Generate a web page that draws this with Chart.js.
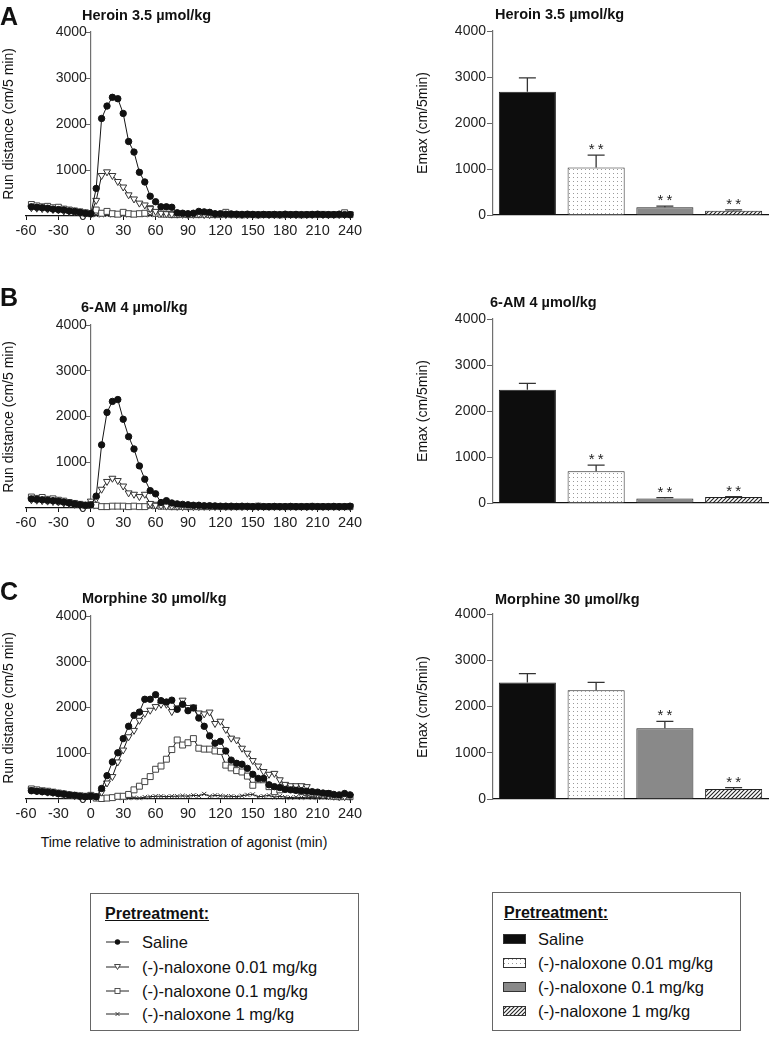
<!DOCTYPE html>
<html><head><meta charset="utf-8">
<script src="https://cdn.jsdelivr.net/npm/chart.js@4.4.0/dist/chart.umd.min.js"></script>
<style>
html,body{margin:0;padding:0;background:#fff;}
body{width:770px;height:1037px;position:relative;overflow:hidden;font-family:"Liberation Sans",Arial,sans-serif;color:#111;}
canvas{position:absolute;}
.t{position:absolute;white-space:nowrap;line-height:1;}
.b{font-weight:bold;}
.box{position:absolute;border:1px solid #666;box-sizing:border-box;}
</style></head><body>

<script>
// ---------- DATA ----------
const timePoints = [-55,-50,-45,-40,-35,-30,-25,-20,-15,-10,-5,0,
  5,10,15,20,25,30,35,40,45,50,55,60,
  65,70,75,80,85,90,95,100,105,110,115,120,
  125,130,135,140,145,150,155,160,165,170,175,180,
  185,190,195,200,205,210,215,220,225,230,235,240];
const xTicks = [-60,-30,0,30,60,90,120,150,180,210,240];
const yTicks = [0,1000,2000,3000,4000];

const groups = ['Saline','(-)-naloxone 0.01 mg/kg','(-)-naloxone 0.1 mg/kg','(-)-naloxone 1 mg/kg'];

// Heroin 3.5 µmol/kg
const heroinSaline = [200,190,180,170,150,140,130,110,100,80,60,50,
  600,2120,2390,2580,2550,2230,1620,1390,950,740,430,310,
  200,200,190,70,60,50,60,100,90,80,50,50,
  40,45,40,35,40,35,30,35,30,35,30,40,
  30,35,30,30,35,40,30,30,30,40,30,30];
const heroinNal001 = [180,170,160,150,140,130,110,100,90,70,50,40,
  340,880,960,880,750,630,460,370,280,240,160,100,
  60,50,40,40,35,30,35,40,30,30,35,30,
  30,35,30,30,25,30,30,35,30,25,30,30,
  30,25,30,30,30,35,30,25,30,30,30,35];
const heroinNal01 = [250,220,200,210,180,190,150,130,110,90,70,50,
  130,60,100,50,40,80,50,40,50,60,160,60,
  40,40,30,30,40,30,30,30,40,30,30,30,
  80,30,30,25,30,30,25,30,30,30,25,30,
  30,30,25,30,30,30,35,30,30,30,70,30];
const heroinNal1 = [200,180,170,160,140,130,110,100,80,60,50,30,
  20,20,25,20,20,25,20,20,25,20,20,25,
  20,20,20,25,20,20,20,25,20,20,20,20,
  20,20,25,20,20,20,20,25,20,20,20,20,
  25,20,20,20,20,25,20,20,20,20,25,20];

// 6-AM 4 µmol/kg
const amSaline = [200,190,180,170,160,150,130,110,90,70,60,70,
  260,1380,2090,2330,2370,1940,1560,1290,920,630,380,310,
  120,160,110,90,80,70,60,60,50,50,45,40,
  40,40,35,40,35,30,35,30,30,35,30,30,
  35,30,30,30,35,30,30,30,35,30,30,40];
const amNal001 = [180,170,160,150,140,130,110,100,80,60,50,150,
  200,410,580,650,600,480,330,300,250,300,100,60,
  50,40,40,35,30,35,30,30,35,30,30,30,
  30,30,35,30,30,30,25,30,30,30,30,25,
  30,30,30,25,30,30,30,30,30,25,30,30];
const amNal01 = [240,210,230,190,200,170,150,120,100,80,60,80,
  60,30,30,40,40,40,30,40,30,30,70,60,
  40,40,30,30,35,30,30,30,30,30,35,30,
  30,30,30,30,35,30,40,30,30,30,30,30,
  30,30,30,30,35,30,30,30,30,30,30,30];
const amNal1 = [190,170,160,150,140,120,110,90,70,60,50,40,
  20,20,20,25,20,20,20,20,25,20,20,20,
  20,20,25,20,20,20,20,25,20,20,20,20,
  20,25,20,20,20,20,25,20,20,20,20,20,
  25,20,20,20,20,20,25,20,20,20,20,20];

// Morphine 30 µmol/kg
const morSaline = [180,170,160,150,140,120,110,90,80,60,50,60,
  50,230,510,810,1010,1320,1590,1830,1900,2180,2180,2280,
  2150,2120,2160,1960,2070,1930,1990,1770,1590,1380,1220,1260,
  1050,850,780,760,670,540,450,450,310,270,250,210,
  200,190,180,170,160,150,130,120,100,90,120,90];
const morNal001 = [200,180,170,150,140,120,100,90,70,60,50,80,
  60,150,350,490,810,1070,1360,1500,1720,1870,1940,2020,
  2070,2070,1910,1990,2160,2000,2010,1880,1860,1900,1650,1700,
  1520,1330,1290,1110,1000,840,720,600,540,560,420,320,
  290,290,290,270,120,100,80,70,60,50,50,60];
const morNal01 = [220,200,180,170,150,130,110,90,80,70,60,80,
  20,10,20,30,60,60,100,200,280,380,490,650,
  720,870,1080,1290,1180,1230,1320,1110,1090,1090,1050,1040,
  740,680,620,590,500,300,420,420,270,160,200,280,
  250,200,160,140,120,110,100,120,60,50,60,50];
const morNal1 = [200,180,160,150,130,110,100,90,80,60,50,50,
  20,10,20,10,20,30,20,30,20,40,50,60,
  60,50,60,60,70,60,80,70,110,60,80,70,
  60,60,50,70,90,100,50,60,80,40,60,40,
  30,40,30,40,30,30,40,30,30,40,30,30];

// Emax bars (mean and SEM) and significance marks
const heroinEmax = [2680,1030,170,95];
const heroinSem  = [300,270,25,15];
const heroinSig  = ['','**','**','**'];
const amEmax = [2460,690,100,130];
const amSem  = [140,135,15,10];
const amSig  = ['','**','**','**'];
const morEmax = [2520,2350,1530,215];
const morSem  = [190,170,150,30];
const morSig  = ['','','**','**'];

// ---------- STYLE / LAYOUT ----------
const FONT = '"Liberation Sans", Arial, sans-serif';
Chart.defaults.font.family = FONT;
Chart.defaults.color = '#222';

function dotPattern(){
  const c=document.createElement('canvas');c.width=4;c.height=4;
  const g=c.getContext('2d');g.fillStyle='#fff';g.fillRect(0,0,4,4);
  g.fillStyle='#9a9a9a';g.fillRect(1,1,1,1);
  return g.createPattern(c,'repeat');
}
function hatchPattern(){
  const c=document.createElement('canvas');c.width=4;c.height=4;
  const g=c.getContext('2d');g.fillStyle='#fff';g.fillRect(0,0,4,4);
  g.strokeStyle='#222';g.lineWidth=1.1;g.beginPath();
  g.moveTo(-1,5);g.lineTo(5,-1);g.moveTo(-1,1);g.lineTo(1,-1);g.moveTo(3,5);g.lineTo(5,3);g.stroke();
  return g.createPattern(c,'repeat');
}
const barFills = ['#0d0d0d', dotPattern(), '#898989', hatchPattern()];

const lineStyles = [
  {pointStyle:'circle', pointRadius:3.2, pointBackgroundColor:'#111', pointBorderColor:'#111', pointRotation:0},
  {pointStyle:'triangle', pointRadius:4, pointBackgroundColor:'#fff', pointBorderColor:'#333', pointRotation:180},
  {pointStyle:'rect', pointRadius:4.2, pointBackgroundColor:'#fff', pointBorderColor:'#444', pointRotation:0},
  {pointStyle:'crossRot', pointRadius:3, pointBackgroundColor:'#fff', pointBorderColor:'#333', pointRotation:0}
];

const errorBarPlugin = {
  id:'errorBars',
  afterDatasetsDraw(chart, args, opts){
    const ctx=chart.ctx, y=chart.scales.y, meta=chart.getDatasetMeta(0);
    const vals=chart.data.datasets[0].data;
    meta.data.forEach((bar,i)=>{
      const top=y.getPixelForValue(vals[i]+opts.sem[i]);
      ctx.save();
      ctx.strokeStyle='#333';ctx.lineWidth=1.3;
      ctx.beginPath();ctx.moveTo(bar.x,bar.y);ctx.lineTo(bar.x,top);
      ctx.moveTo(bar.x-8.5,top);ctx.lineTo(bar.x+8.5,top);ctx.stroke();
      if(opts.sig[i]){
        ctx.fillStyle='#222';ctx.font='15px '+FONT;ctx.textAlign='center';ctx.textBaseline='alphabetic';
        try{ctx.letterSpacing='3px';}catch(e){}
        ctx.fillText(opts.sig[i],bar.x+1.5,top-1);
      }
      ctx.restore();
    });
  }
};

function makeCanvas(g){
  const c=document.createElement('canvas');
  c.width=g.w;c.height=g.h;c.style.left=g.l+'px';c.style.top=g.t+'px';
  c.style.width=g.w+'px';c.style.height=g.h+'px';
  document.body.appendChild(c);return c;
}

function lineChart(series, g){
  const XH=22;
  const c=makeCanvas(g);
  return new Chart(c,{
    type:'line',
    data:{datasets:series.map((vals,k)=>Object.assign({
      label:groups[k],
      data:timePoints.map((t,i)=>({x:t,y:vals[i]})),
      borderColor:'#151515',borderWidth:1,pointBorderWidth:1,tension:0,clip:false,fill:false
    },lineStyles[k]))},
    options:{
      responsive:false,animation:false,devicePixelRatio:1,
      layout:{padding:{left:g.aL-g.l,right:g.l+g.w-g.aR,top:g.aT-g.t,bottom:g.t+g.h-g.aB-XH}},
      plugins:{legend:{display:false},tooltip:{enabled:false}},
      scales:{
        x:{type:'linear',min:-60,max:240,
          afterFit:s=>{s.height=XH;},
          afterBuildTicks:s=>{s.ticks=xTicks.map(v=>({value:v}));},
          ticks:{font:{size:14.5},color:'#222',padding:2,autoSkip:false,maxRotation:0,callback:v=>String(v)},
          grid:{display:true,drawOnChartArea:false,drawTicks:true,tickLength:4,color:'#111',lineWidth:1},
          border:{display:true,color:'#111',width:1.3}},
        y:{type:'linear',min:0,max:4000,position:{x:0},
          afterBuildTicks:s=>{s.ticks=yTicks.map(v=>({value:v}));},
          // axis sits at x = 0: a trailing space keeps the label clear of the tick mark
          ticks:{font:{size:14},color:'#222',padding:1,callback:v=>String(v)+' '},
          grid:{display:true,drawOnChartArea:false,drawTicks:true,tickLength:5,color:'#666',lineWidth:1},
          border:{display:true,color:'#707070',width:1.2}}
      }
    }
  });
}

function barChart(vals, sem, sig, g){
  const YW=60;
  const c=makeCanvas(g);
  return new Chart(c,{
    type:'bar',
    data:{labels:groups,datasets:[{data:vals,backgroundColor:barFills,borderColor:'#222',borderWidth:1,
      categoryPercentage:1,barPercentage:0.83}]},
    options:{
      responsive:false,animation:false,devicePixelRatio:1,
      layout:{padding:{left:g.aL-g.l-YW,right:g.l+g.w-g.aR,top:g.aT-g.t,bottom:g.t+g.h-g.aB}},
      plugins:{legend:{display:false},tooltip:{enabled:false},errorBars:{sem:sem,sig:sig}},
      scales:{
        x:{ticks:{display:false},grid:{display:false},border:{display:true,color:'#111',width:1.3},
          afterFit:s=>{s.height=0;}},
        y:{min:0,max:4000,afterFit:s=>{s.width=YW;},
          afterBuildTicks:s=>{s.ticks=yTicks.map(v=>({value:v}));},
          ticks:{font:{size:14},color:'#222',padding:1,callback:v=>String(v)},
          grid:{display:true,drawOnChartArea:false,drawTicks:true,tickLength:6,color:'#666'},
          border:{display:true,color:'#707070',width:1.2}}
      }
    },
    plugins:[errorBarPlugin]
  });
}

// geometry: canvas (l,t,w,h) and plot area (aL,aR,aT,aB) in page pixels
const lineGeo = [
  {l:0,t:0,w:370,h:245,aL:26,aR:350,aT:32,aB:216},
  {l:0,t:280,w:370,h:255,aL:26,aR:350,aT:325,aB:508},
  {l:0,t:570,w:370,h:260,aL:26,aR:350,aT:616,aB:799}
];
const barGeo = [
  {l:380,t:0,w:390,h:240,aL:493,aR:768,aT:31,aB:215},
  {l:380,t:280,w:390,h:250,aL:493,aR:768,aT:319,aB:503},
  {l:380,t:570,w:390,h:250,aL:493,aR:768,aT:614,aB:799}
];

lineChart([heroinSaline,heroinNal001,heroinNal01,heroinNal1], lineGeo[0]);
lineChart([amSaline,amNal001,amNal01,amNal1], lineGeo[1]);
lineChart([morSaline,morNal001,morNal01,morNal1], lineGeo[2]);
barChart(heroinEmax,heroinSem,heroinSig,barGeo[0]);
barChart(amEmax,amSem,amSig,barGeo[1]);
barChart(morEmax,morSem,morSig,barGeo[2]);

// ---------- TEXT ----------
function txt(s, x, cy, size, cls, extra){
  const d=document.createElement('div');
  d.className='t '+(cls||'');d.textContent=s;
  d.style.fontSize=size+'px';d.style.left=x+'px';d.style.top=(cy-0.49*size)+'px';
  if(extra) Object.assign(d.style, extra);
  document.body.appendChild(d);return d;
}
function vtxt(s, cx, cy, size){
  const d=document.createElement('div');
  d.className='t';d.textContent=s;d.style.fontSize=size+'px';
  d.style.left=cx+'px';d.style.top=cy+'px';
  d.style.transform='translate(-50%,-50%) rotate(-90deg)';
  document.body.appendChild(d);return d;
}
txt('A',0,16,25,'b');
txt('B',0,297,25,'b');
txt('C',0,591,25,'b');
txt('Heroin 3.5 µmol/kg',82,15,14.5,'b');
txt('Heroin 3.5 µmol/kg',495,14,14.5,'b');
txt('6-AM 4 µmol/kg',81,307,14.5,'b');
txt('6-AM 4 µmol/kg',490,302,14.5,'b');
txt('Morphine 30 µmol/kg',82,598,14.5,'b');
txt('Morphine 30 µmol/kg',495,599,14.5,'b');
lineGeo.forEach(g=>vtxt('Run distance (cm/5 min)',8,(g.aT+g.aB)/2,14));
barGeo.forEach(g=>vtxt('Emax (cm/5min)',422,(g.aT+g.aB)/2,14));
txt('Time relative to administration of agonist (min)',184,842,14,'',{transform:'translateX(-50%)'});

// ---------- LEGENDS ----------
function box(l,t,w,h){const d=document.createElement('div');d.className='box';
  Object.assign(d.style,{left:l+'px',top:t+'px',width:w+'px',height:h+'px'});document.body.appendChild(d);}
box(90,893,269,138);
box(492,892,249,139);
txt('Pretreatment:',105,914,16,'b',{textDecoration:'underline'});
txt('Pretreatment:',504,913,16,'b',{textDecoration:'underline'});

const lineLegY=[942,967,991,1014];
const barLegY=[939,963,987,1011];
const svgNS='http://www.w3.org/2000/svg';
function lineSymbol(k, x, cy){
  const s=document.createElementNS(svgNS,'svg');
  s.setAttribute('width','24');s.setAttribute('height','12');
  Object.assign(s.style,{position:'absolute',left:x+'px',top:(cy-6)+'px'});
  let inner='<line x1="0" y1="6" x2="23" y2="6" stroke="#222" stroke-width="1"/>';
  if(k===0) inner+='<circle cx="11.5" cy="6" r="2.7" fill="#111"/>';
  if(k===1) inner+='<polygon points="8.5,3.5 14.5,3.5 11.5,8.5" fill="#fff" stroke="#333" stroke-width="0.9"/>';
  if(k===2) inner+='<rect x="9" y="3.5" width="5" height="5" fill="#fff" stroke="#444" stroke-width="0.9"/>';
  if(k===3) inner+='<path d="M9.5 4 L13.5 8 M13.5 4 L9.5 8" stroke="#333" stroke-width="0.9"/>';
  s.innerHTML=inner;document.body.appendChild(s);
}
groups.forEach((name,k)=>{
  lineSymbol(k,106,lineLegY[k]);
  txt(name,142,lineLegY[k],16.5);
  const c=document.createElement('canvas');c.width=23;c.height=10;
  Object.assign(c.style,{left:'503px',top:(barLegY[k]-5)+'px'});
  const g=c.getContext('2d');g.fillStyle=barFills[k];g.fillRect(0,0,23,10);
  g.strokeStyle='#333';g.lineWidth=1;g.strokeRect(0.5,0.5,22,9);
  document.body.appendChild(c);
  txt(name,538,barLegY[k],16.5);
});
</script>
</body></html>
